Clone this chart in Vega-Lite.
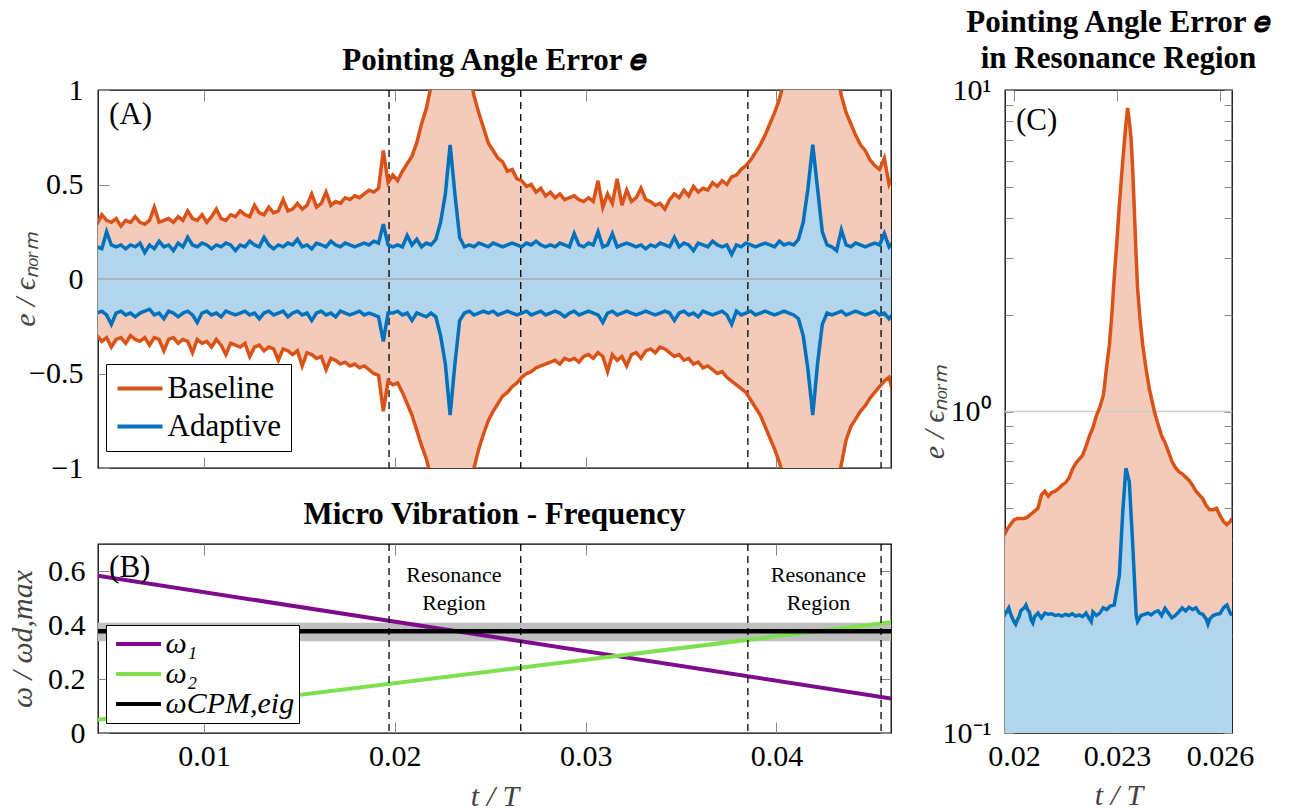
{
  "$schema": "https://vega.github.io/schema/vega-lite/v6.json",
  "background": "white",
  "padding": {"left": 6, "top": 5, "right": 5, "bottom": 5},
  "datasets": {
    "a": [
      {"t":0.0044,"bu":0.29,"bl":-0.30,"au":0.17,"al":-0.18},
      {"t":0.00465,"bu":0.34,"bl":-0.33,"au":0.16,"al":-0.17},
      {"t":0.0049,"bu":0.31,"bl":-0.31,"au":0.25,"al":-0.19},
      {"t":0.00515,"bu":0.30,"bl":-0.36,"au":0.18,"al":-0.24},
      {"t":0.0054,"bu":0.32,"bl":-0.32,"au":0.17,"al":-0.18},
      {"t":0.00565,"bu":0.28,"bl":-0.31,"au":0.18,"al":-0.17},
      {"t":0.0059,"bu":0.31,"bl":-0.34,"au":0.16,"al":-0.19},
      {"t":0.00615,"bu":0.30,"bl":-0.30,"au":0.18,"al":-0.18},
      {"t":0.0064,"bu":0.33,"bl":-0.32,"au":0.17,"al":-0.20},
      {"t":0.00665,"bu":0.30,"bl":-0.33,"au":0.19,"al":-0.18},
      {"t":0.0069,"bu":0.29,"bl":-0.31,"au":0.14,"al":-0.17},
      {"t":0.00715,"bu":0.31,"bl":-0.35,"au":0.18,"al":-0.16},
      {"t":0.0074,"bu":0.38,"bl":-0.31,"au":0.16,"al":-0.19},
      {"t":0.00765,"bu":0.30,"bl":-0.32,"au":0.20,"al":-0.18},
      {"t":0.0079,"bu":0.31,"bl":-0.38,"au":0.17,"al":-0.21},
      {"t":0.00815,"bu":0.32,"bl":-0.32,"au":0.18,"al":-0.17},
      {"t":0.0084,"bu":0.30,"bl":-0.31,"au":0.15,"al":-0.18},
      {"t":0.00865,"bu":0.33,"bl":-0.34,"au":0.19,"al":-0.20},
      {"t":0.0089,"bu":0.31,"bl":-0.32,"au":0.17,"al":-0.18},
      {"t":0.00915,"bu":0.36,"bl":-0.33,"au":0.22,"al":-0.17},
      {"t":0.0094,"bu":0.32,"bl":-0.39,"au":0.18,"al":-0.19},
      {"t":0.00965,"bu":0.31,"bl":-0.32,"au":0.17,"al":-0.23},
      {"t":0.0099,"bu":0.34,"bl":-0.34,"au":0.19,"al":-0.18},
      {"t":0.01015,"bu":0.30,"bl":-0.33,"au":0.18,"al":-0.17},
      {"t":0.0104,"bu":0.33,"bl":-0.36,"au":0.16,"al":-0.19},
      {"t":0.01065,"bu":0.37,"bl":-0.32,"au":0.18,"al":-0.18},
      {"t":0.0109,"bu":0.32,"bl":-0.35,"au":0.17,"al":-0.20},
      {"t":0.01115,"bu":0.31,"bl":-0.40,"au":0.19,"al":-0.17},
      {"t":0.0114,"bu":0.34,"bl":-0.34,"au":0.18,"al":-0.18},
      {"t":0.01165,"bu":0.33,"bl":-0.35,"au":0.15,"al":-0.19},
      {"t":0.0119,"bu":0.36,"bl":-0.36,"au":0.18,"al":-0.18},
      {"t":0.01215,"bu":0.34,"bl":-0.34,"au":0.17,"al":-0.17},
      {"t":0.0124,"bu":0.33,"bl":-0.41,"au":0.20,"al":-0.19},
      {"t":0.01265,"bu":0.39,"bl":-0.36,"au":0.18,"al":-0.18},
      {"t":0.0129,"bu":0.35,"bl":-0.35,"au":0.17,"al":-0.21},
      {"t":0.01315,"bu":0.34,"bl":-0.38,"au":0.22,"al":-0.18},
      {"t":0.0134,"bu":0.38,"bl":-0.36,"au":0.18,"al":-0.17},
      {"t":0.01365,"bu":0.35,"bl":-0.37,"au":0.16,"al":-0.19},
      {"t":0.0139,"bu":0.36,"bl":-0.43,"au":0.18,"al":-0.18},
      {"t":0.01415,"bu":0.42,"bl":-0.37,"au":0.17,"al":-0.17},
      {"t":0.0144,"bu":0.36,"bl":-0.38,"au":0.19,"al":-0.20},
      {"t":0.01465,"bu":0.37,"bl":-0.40,"au":0.18,"al":-0.18},
      {"t":0.0149,"bu":0.40,"bl":-0.38,"au":0.21,"al":-0.17},
      {"t":0.01515,"bu":0.37,"bl":-0.46,"au":0.17,"al":-0.19},
      {"t":0.0154,"bu":0.39,"bl":-0.39,"au":0.18,"al":-0.18},
      {"t":0.01565,"bu":0.45,"bl":-0.40,"au":0.16,"al":-0.22},
      {"t":0.0159,"bu":0.38,"bl":-0.42,"au":0.19,"al":-0.18},
      {"t":0.01615,"bu":0.40,"bl":-0.41,"au":0.18,"al":-0.17},
      {"t":0.0164,"bu":0.46,"bl":-0.48,"au":0.17,"al":-0.19},
      {"t":0.01665,"bu":0.39,"bl":-0.42,"au":0.20,"al":-0.18},
      {"t":0.0169,"bu":0.41,"bl":-0.43,"au":0.18,"al":-0.20},
      {"t":0.01715,"bu":0.40,"bl":-0.45,"au":0.17,"al":-0.17},
      {"t":0.0174,"bu":0.43,"bl":-0.44,"au":0.19,"al":-0.18},
      {"t":0.01765,"bu":0.42,"bl":-0.46,"au":0.18,"al":-0.19},
      {"t":0.0179,"bu":0.44,"bl":-0.45,"au":0.17,"al":-0.18},
      {"t":0.01815,"bu":0.43,"bl":-0.47,"au":0.18,"al":-0.17},
      {"t":0.0184,"bu":0.45,"bl":-0.46,"au":0.19,"al":-0.19},
      {"t":0.01865,"bu":0.47,"bl":-0.48,"au":0.18,"al":-0.18},
      {"t":0.0189,"bu":0.46,"bl":-0.50,"au":0.20,"al":-0.19},
      {"t":0.01915,"bu":0.48,"bl":-0.51,"au":0.19,"al":-0.20},
      {"t":0.0194,"bu":0.68,"bl":-0.70,"au":0.29,"al":-0.33},
      {"t":0.01965,"bu":0.51,"bl":-0.54,"au":0.18,"al":-0.18},
      {"t":0.0199,"bu":0.55,"bl":-0.56,"au":0.17,"al":-0.18},
      {"t":0.02015,"bu":0.52,"bl":-0.55,"au":0.18,"al":-0.17},
      {"t":0.0204,"bu":0.57,"bl":-0.60,"au":0.17,"al":-0.19},
      {"t":0.02065,"bu":0.61,"bl":-0.66,"au":0.23,"al":-0.18},
      {"t":0.0209,"bu":0.65,"bl":-0.72,"au":0.18,"al":-0.22},
      {"t":0.02115,"bu":0.72,"bl":-0.80,"au":0.21,"al":-0.18},
      {"t":0.0214,"bu":0.82,"bl":-0.88,"au":0.17,"al":-0.19},
      {"t":0.02165,"bu":0.90,"bl":-0.95,"au":0.19,"al":-0.20},
      {"t":0.0219,"bu":1.02,"bl":-1.05,"au":0.18,"al":-0.18},
      {"t":0.02215,"bu":1.3,"bl":-1.3,"au":0.21,"al":-0.20},
      {"t":0.0224,"bu":1.8,"bl":-1.8,"au":0.30,"al":-0.30},
      {"t":0.02265,"bu":2.8,"bl":-2.8,"au":0.45,"al":-0.45},
      {"t":0.0229,"bu":5.0,"bl":-5.0,"au":0.71,"al":-0.72},
      {"t":0.02315,"bu":3.0,"bl":-3.0,"au":0.45,"al":-0.45},
      {"t":0.0234,"bu":1.9,"bl":-1.9,"au":0.22,"al":-0.22},
      {"t":0.02365,"bu":1.35,"bl":-1.35,"au":0.17,"al":-0.18},
      {"t":0.0239,"bu":1.1,"bl":-1.1,"au":0.18,"al":-0.17},
      {"t":0.02415,"bu":0.97,"bl":-1.0,"au":0.17,"al":-0.19},
      {"t":0.0244,"bu":0.88,"bl":-0.90,"au":0.19,"al":-0.18},
      {"t":0.02465,"bu":0.80,"bl":-0.82,"au":0.18,"al":-0.17},
      {"t":0.0249,"bu":0.72,"bl":-0.75,"au":0.17,"al":-0.18},
      {"t":0.02515,"bu":0.68,"bl":-0.70,"au":0.19,"al":-0.17},
      {"t":0.0254,"bu":0.64,"bl":-0.66,"au":0.18,"al":-0.19},
      {"t":0.02565,"bu":0.62,"bl":-0.62,"au":0.17,"al":-0.18},
      {"t":0.0259,"bu":0.57,"bl":-0.60,"au":0.18,"al":-0.17},
      {"t":0.02615,"bu":0.58,"bl":-0.57,"au":0.19,"al":-0.18},
      {"t":0.0264,"bu":0.53,"bl":-0.55,"au":0.18,"al":-0.19},
      {"t":0.02665,"bu":0.52,"bl":-0.52,"au":0.17,"al":-0.18},
      {"t":0.0269,"bu":0.49,"bl":-0.50,"au":0.19,"al":-0.17},
      {"t":0.02715,"bu":0.50,"bl":-0.49,"au":0.18,"al":-0.19},
      {"t":0.0274,"bu":0.46,"bl":-0.47,"au":0.20,"al":-0.18},
      {"t":0.02765,"bu":0.48,"bl":-0.46,"au":0.18,"al":-0.17},
      {"t":0.0279,"bu":0.44,"bl":-0.45,"au":0.17,"al":-0.19},
      {"t":0.02815,"bu":0.46,"bl":-0.44,"au":0.18,"al":-0.18},
      {"t":0.0284,"bu":0.43,"bl":-0.43,"au":0.17,"al":-0.17},
      {"t":0.02865,"bu":0.45,"bl":-0.45,"au":0.19,"al":-0.18},
      {"t":0.0289,"bu":0.42,"bl":-0.42,"au":0.18,"al":-0.20},
      {"t":0.02915,"bu":0.43,"bl":-0.43,"au":0.17,"al":-0.18},
      {"t":0.0294,"bu":0.44,"bl":-0.42,"au":0.24,"al":-0.17},
      {"t":0.02965,"bu":0.42,"bl":-0.44,"au":0.18,"al":-0.19},
      {"t":0.0299,"bu":0.41,"bl":-0.41,"au":0.17,"al":-0.18},
      {"t":0.03015,"bu":0.43,"bl":-0.40,"au":0.19,"al":-0.17},
      {"t":0.0304,"bu":0.41,"bl":-0.42,"au":0.18,"al":-0.18},
      {"t":0.03065,"bu":0.52,"bl":-0.39,"au":0.25,"al":-0.19},
      {"t":0.0309,"bu":0.38,"bl":-0.41,"au":0.17,"al":-0.23},
      {"t":0.03115,"bu":0.45,"bl":-0.49,"au":0.18,"al":-0.18},
      {"t":0.0314,"bu":0.40,"bl":-0.40,"au":0.24,"al":-0.17},
      {"t":0.03165,"bu":0.53,"bl":-0.43,"au":0.17,"al":-0.19},
      {"t":0.0319,"bu":0.39,"bl":-0.41,"au":0.18,"al":-0.18},
      {"t":0.03215,"bu":0.47,"bl":-0.46,"au":0.19,"al":-0.17},
      {"t":0.0324,"bu":0.41,"bl":-0.40,"au":0.18,"al":-0.18},
      {"t":0.03265,"bu":0.43,"bl":-0.39,"au":0.17,"al":-0.19},
      {"t":0.0329,"bu":0.48,"bl":-0.42,"au":0.18,"al":-0.18},
      {"t":0.03315,"bu":0.42,"bl":-0.38,"au":0.16,"al":-0.17},
      {"t":0.0334,"bu":0.41,"bl":-0.37,"au":0.18,"al":-0.18},
      {"t":0.03365,"bu":0.39,"bl":-0.39,"au":0.17,"al":-0.19},
      {"t":0.0339,"bu":0.40,"bl":-0.36,"au":0.19,"al":-0.18},
      {"t":0.03415,"bu":0.37,"bl":-0.37,"au":0.18,"al":-0.17},
      {"t":0.0344,"bu":0.42,"bl":-0.39,"au":0.17,"al":-0.18},
      {"t":0.03465,"bu":0.45,"bl":-0.41,"au":0.22,"al":-0.22},
      {"t":0.0349,"bu":0.43,"bl":-0.40,"au":0.17,"al":-0.18},
      {"t":0.03515,"bu":0.47,"bl":-0.43,"au":0.19,"al":-0.17},
      {"t":0.0354,"bu":0.44,"bl":-0.42,"au":0.18,"al":-0.19},
      {"t":0.03565,"bu":0.49,"bl":-0.45,"au":0.15,"al":-0.18},
      {"t":0.0359,"bu":0.46,"bl":-0.44,"au":0.19,"al":-0.20},
      {"t":0.03615,"bu":0.48,"bl":-0.47,"au":0.18,"al":-0.17},
      {"t":0.0364,"bu":0.47,"bl":-0.46,"au":0.17,"al":-0.18},
      {"t":0.03665,"bu":0.51,"bl":-0.48,"au":0.20,"al":-0.19},
      {"t":0.0369,"bu":0.49,"bl":-0.50,"au":0.18,"al":-0.18},
      {"t":0.03715,"bu":0.52,"bl":-0.49,"au":0.17,"al":-0.17},
      {"t":0.0374,"bu":0.50,"bl":-0.52,"au":0.18,"al":-0.19},
      {"t":0.03765,"bu":0.54,"bl":-0.54,"au":0.13,"al":-0.24},
      {"t":0.0379,"bu":0.55,"bl":-0.56,"au":0.18,"al":-0.17},
      {"t":0.03815,"bu":0.58,"bl":-0.58,"au":0.17,"al":-0.19},
      {"t":0.0384,"bu":0.60,"bl":-0.60,"au":0.19,"al":-0.18},
      {"t":0.03865,"bu":0.63,"bl":-0.64,"au":0.18,"al":-0.17},
      {"t":0.0389,"bu":0.67,"bl":-0.68,"au":0.17,"al":-0.19},
      {"t":0.03915,"bu":0.71,"bl":-0.72,"au":0.18,"al":-0.18},
      {"t":0.0394,"bu":0.76,"bl":-0.78,"au":0.19,"al":-0.17},
      {"t":0.03965,"bu":0.82,"bl":-0.84,"au":0.18,"al":-0.18},
      {"t":0.0399,"bu":0.88,"bl":-0.90,"au":0.17,"al":-0.19},
      {"t":0.04015,"bu":0.95,"bl":-0.97,"au":0.20,"al":-0.18},
      {"t":0.0404,"bu":1.05,"bl":-1.06,"au":0.18,"al":-0.17},
      {"t":0.04065,"bu":1.3,"bl":-1.3,"au":0.19,"al":-0.18},
      {"t":0.0409,"bu":1.7,"bl":-1.7,"au":0.18,"al":-0.19},
      {"t":0.04115,"bu":2.4,"bl":-2.4,"au":0.21,"al":-0.21},
      {"t":0.0414,"bu":3.5,"bl":-3.5,"au":0.30,"al":-0.30},
      {"t":0.04165,"bu":5.0,"bl":-5.0,"au":0.48,"al":-0.48},
      {"t":0.0419,"bu":6.0,"bl":-6.0,"au":0.71,"al":-0.72},
      {"t":0.04215,"bu":5.0,"bl":-5.0,"au":0.48,"al":-0.45},
      {"t":0.0424,"bu":3.5,"bl":-3.5,"au":0.25,"al":-0.24},
      {"t":0.04265,"bu":2.3,"bl":-2.3,"au":0.18,"al":-0.18},
      {"t":0.0429,"bu":1.5,"bl":-1.5,"au":0.17,"al":-0.19},
      {"t":0.04315,"bu":1.1,"bl":-1.1,"au":0.15,"al":-0.18},
      {"t":0.0434,"bu":0.97,"bl":-0.98,"au":0.26,"al":-0.17},
      {"t":0.04365,"bu":0.88,"bl":-0.85,"au":0.18,"al":-0.19},
      {"t":0.0439,"bu":0.82,"bl":-0.78,"au":0.17,"al":-0.18},
      {"t":0.04415,"bu":0.76,"bl":-0.74,"au":0.19,"al":-0.17},
      {"t":0.0444,"bu":0.71,"bl":-0.70,"au":0.18,"al":-0.18},
      {"t":0.04465,"bu":0.68,"bl":-0.67,"au":0.17,"al":-0.19},
      {"t":0.0449,"bu":0.63,"bl":-0.63,"au":0.18,"al":-0.18},
      {"t":0.04515,"bu":0.60,"bl":-0.60,"au":0.19,"al":-0.17},
      {"t":0.0454,"bu":0.58,"bl":-0.57,"au":0.18,"al":-0.19},
      {"t":0.04565,"bu":0.64,"bl":-0.54,"au":0.24,"al":-0.18},
      {"t":0.0459,"bu":0.50,"bl":-0.52,"au":0.17,"al":-0.21},
      {"t":0.04615,"bu":0.55,"bl":-0.62,"au":0.20,"al":-0.18}
    ],
    "cb": [
      {"t":0.0197,"v":0.41},{"t":0.0198,"v":0.43},{"t":0.0199,"v":0.445},{"t":0.02,"v":0.46},
      {"t":0.0201,"v":0.465},{"t":0.0202,"v":0.465},{"t":0.0203,"v":0.465},{"t":0.0204,"v":0.47},
      {"t":0.0205,"v":0.48},{"t":0.0206,"v":0.49},{"t":0.0207,"v":0.50},{"t":0.0208,"v":0.55},
      {"t":0.0209,"v":0.565},{"t":0.021,"v":0.545},{"t":0.0211,"v":0.56},{"t":0.0212,"v":0.565},
      {"t":0.0213,"v":0.575},{"t":0.0214,"v":0.59},{"t":0.0215,"v":0.60},{"t":0.0216,"v":0.62},
      {"t":0.0217,"v":0.66},{"t":0.0218,"v":0.69},{"t":0.0219,"v":0.71},{"t":0.022,"v":0.73},
      {"t":0.0221,"v":0.78},{"t":0.0222,"v":0.84},{"t":0.0223,"v":0.89},{"t":0.0224,"v":0.97},
      {"t":0.0225,"v":1.03},{"t":0.0226,"v":1.12},{"t":0.02263,"v":1.18},{"t":0.0227,"v":1.38},
      {"t":0.02278,"v":1.61},{"t":0.02285,"v":2.0},{"t":0.02292,"v":2.6},{"t":0.023,"v":3.4},
      {"t":0.02307,"v":4.4},{"t":0.02314,"v":5.5},{"t":0.02321,"v":6.8},{"t":0.02326,"v":7.8},
      {"t":0.02331,"v":8.8},{"t":0.02336,"v":8.0},{"t":0.02341,"v":7.1},{"t":0.02346,"v":5.6},
      {"t":0.0235,"v":4.4},{"t":0.02355,"v":3.2},{"t":0.0236,"v":2.42},{"t":0.02367,"v":1.95},
      {"t":0.02375,"v":1.61},{"t":0.02385,"v":1.35},{"t":0.02394,"v":1.18},{"t":0.02402,"v":1.08},
      {"t":0.02409,"v":1.0},{"t":0.0242,"v":0.91},{"t":0.0243,"v":0.84},{"t":0.0244,"v":0.80},
      {"t":0.0245,"v":0.75},{"t":0.0246,"v":0.70},{"t":0.0247,"v":0.67},{"t":0.0248,"v":0.65},
      {"t":0.0249,"v":0.64},{"t":0.025,"v":0.625},{"t":0.0251,"v":0.61},{"t":0.0252,"v":0.59},
      {"t":0.0253,"v":0.565},{"t":0.0254,"v":0.55},{"t":0.0255,"v":0.535},{"t":0.0256,"v":0.51},
      {"t":0.0257,"v":0.495},{"t":0.0258,"v":0.495},{"t":0.0259,"v":0.50},{"t":0.026,"v":0.475},
      {"t":0.0261,"v":0.455},{"t":0.0262,"v":0.445},{"t":0.0263,"v":0.455},{"t":0.02635,"v":0.465}
    ],
    "ca": [
      {"t":0.0197,"v":0.23},{"t":0.01985,"v":0.245},{"t":0.0199,"v":0.235},{"t":0.02,"v":0.222},
      {"t":0.02005,"v":0.218},{"t":0.0201,"v":0.225},{"t":0.02015,"v":0.23},{"t":0.0202,"v":0.24},
      {"t":0.0203,"v":0.245},{"t":0.02035,"v":0.25},{"t":0.0204,"v":0.242},{"t":0.02045,"v":0.238},
      {"t":0.0205,"v":0.225},{"t":0.02055,"v":0.22},{"t":0.0206,"v":0.23},{"t":0.0207,"v":0.236},
      {"t":0.0208,"v":0.228},{"t":0.0209,"v":0.236},{"t":0.021,"v":0.234},{"t":0.0211,"v":0.235},
      {"t":0.0212,"v":0.232},{"t":0.0213,"v":0.233},{"t":0.0214,"v":0.231},{"t":0.0215,"v":0.234},
      {"t":0.0216,"v":0.232},{"t":0.0217,"v":0.235},{"t":0.0218,"v":0.231},{"t":0.0219,"v":0.233},
      {"t":0.022,"v":0.23},{"t":0.0221,"v":0.236},{"t":0.0222,"v":0.226},{"t":0.02225,"v":0.222},
      {"t":0.0223,"v":0.238},{"t":0.0224,"v":0.232},{"t":0.0225,"v":0.236},{"t":0.0226,"v":0.245},
      {"t":0.0227,"v":0.242},{"t":0.0228,"v":0.248},{"t":0.02292,"v":0.25},{"t":0.02307,"v":0.31},
      {"t":0.02317,"v":0.49},{"t":0.02326,"v":0.666},{"t":0.02336,"v":0.605},{"t":0.02346,"v":0.384},
      {"t":0.02356,"v":0.232},{"t":0.0236,"v":0.222},{"t":0.0237,"v":0.232},{"t":0.0238,"v":0.234},
      {"t":0.0239,"v":0.236},{"t":0.024,"v":0.233},{"t":0.0241,"v":0.238},{"t":0.0242,"v":0.24},
      {"t":0.0243,"v":0.232},{"t":0.0244,"v":0.244},{"t":0.0245,"v":0.236},{"t":0.0246,"v":0.228},
      {"t":0.0247,"v":0.232},{"t":0.0248,"v":0.238},{"t":0.0249,"v":0.245},{"t":0.025,"v":0.24},
      {"t":0.0251,"v":0.246},{"t":0.0252,"v":0.242},{"t":0.0253,"v":0.245},{"t":0.0254,"v":0.236},
      {"t":0.0255,"v":0.234},{"t":0.0256,"v":0.226},{"t":0.02565,"v":0.218},{"t":0.0257,"v":0.226},
      {"t":0.0258,"v":0.232},{"t":0.0259,"v":0.234},{"t":0.026,"v":0.235},{"t":0.0261,"v":0.245},
      {"t":0.0262,"v":0.25},{"t":0.0263,"v":0.236},{"t":0.02635,"v":0.232}
    ],
    "dash": [{"t":0.0197},{"t":0.0266},{"t":0.0385},{"t":0.04548}],
    "omega": [
      {"t":0.0044,"w":0.583,"s":"ω₁"},{"t":0.0461,"w":0.127,"s":"ω₁"},
      {"t":0.0044,"w":0.049,"s":"ω₂"},{"t":0.0461,"w":0.411,"s":"ω₂"}
    ],
    "band": [{"t":0.0044,"lo":0.34,"hi":0.408},{"t":0.0461,"lo":0.34,"hi":0.408}]
  },
  "config": {
    "font": "Liberation Serif",
    "view": {"stroke": "black", "strokeWidth": 1.3},
    "title": {"font": "Liberation Serif, DejaVu Serif", "fontSize": 31, "fontWeight": "bold", "color": "black", "baseline": "alphabetic", "anchor": "middle"},
    "axis": {
      "labelFont": "Liberation Serif", "labelFontSize": 30, "labelColor": "black",
      "titleFont": "Liberation Serif", "titleFontSize": 30, "titleFontStyle": "italic", "titleFontWeight": "normal", "titleColor": "#444",
      "domain": false, "grid": false, "tickColor": "#888", "tickWidth": 1, "tickSize": -11,
      "labelFlush": false, "labelOverlap": false, "labelBound": false, "minExtent": 0
    },
    "legend": {
      "labelFont": "Liberation Serif", "labelColor": "black", "strokeColor": "black", "fillColor": "white",
      "cornerRadius": 0, "symbolStrokeWidth": 4, "symbolType": "M-2.5,0H2.5", "symbolSize": 324
    },
    "text": {"font": "Liberation Serif", "color": "black"}
  },
  "spacing": 24,
  "resolve": {"scale": {"color": "independent"}},
  "hconcat": [
    {
      "spacing": 76,
      "bounds": "flush",
      "resolve": {"scale": {"color": "independent"}},
      "vconcat": [
        {
          "width": 793,
          "height": 378,
          "title": {"text": [" ", "Pointing Angle Error 𝑒"], "offset": -2, "lineHeight": 39},
          "resolve": {"axis": {"x": "independent", "y": "independent"}},
          "layer": [
            {
              "data": {"name": "a"},
              "mark": {"type": "area", "color": "#F4CBBA", "clip": true},
              "encoding": {
                "x": {"field": "t", "type": "quantitative", "scale": {"domain": [0.00445, 0.046], "nice": false, "zero": false},
                      "axis": {"orient": "bottom", "values": [0.01, 0.02, 0.03, 0.04], "labels": false, "title": null}},
                "y": {"field": "bl", "type": "quantitative", "scale": {"domain": [-1, 1], "nice": false, "zero": false},
                      "axis": {"orient": "left", "values": [-1, -0.5, 0, 0.5, 1], "format": "~g", "title": "e / ϵₙₒᵣₘ", "titleX": -64, "titleBaseline": "alphabetic", "labelPadding": 26}},
                "y2": {"field": "bu"}
              }
            },
            {
              "data": {"name": "a"},
              "mark": {"type": "area", "color": "#B3D5EC", "clip": true},
              "encoding": {
                "x": {"field": "t", "type": "quantitative", "axis": null},
                "y": {"field": "al", "type": "quantitative", "axis": null},
                "y2": {"field": "au"}
              }
            },
            {
              "data": {"values": [{}]},
              "mark": {"type": "rule", "color": "#999", "strokeWidth": 1},
              "encoding": {
                "y": {"datum": 0, "type": "quantitative", "axis": {"orient": "right", "values": [-1, -0.5, 0, 0.5, 1], "labels": false, "title": null}}
              }
            },
            {
              "data": {"name": "dash"},
              "mark": {"type": "rule", "color": "black", "strokeDash": [7, 5], "strokeWidth": 1.3},
              "encoding": {
                "x": {"field": "t", "type": "quantitative", "axis": {"orient": "top", "values": [0.01, 0.02, 0.03, 0.04], "labels": false, "title": null}}
              }
            },
            {
              "data": {"name": "a"},
              "mark": {"type": "line", "strokeWidth": 3.5, "clip": true},
              "encoding": {
                "x": {"field": "t", "type": "quantitative", "axis": null},
                "y": {"field": "bu", "type": "quantitative", "axis": null},
                "color": {"datum": "Baseline", "scale": {"domain": ["Baseline", "Adaptive"], "range": ["#D95319", "#0072BD"]},
                          "legend": {"orient": "none", "legendX": 8, "legendY": 274, "title": null, "labelFontSize": 31, "padding": 9, "rowPadding": 6, "symbolOffset": 9.5, "labelOffset": 12}}
              }
            },
            {
              "data": {"name": "a"},
              "mark": {"type": "line", "strokeWidth": 3.5, "clip": true},
              "encoding": {
                "x": {"field": "t", "type": "quantitative", "axis": null},
                "y": {"field": "bl", "type": "quantitative", "axis": null},
                "color": {"datum": "Baseline"}
              }
            },
            {
              "data": {"name": "a"},
              "mark": {"type": "line", "strokeWidth": 3.5, "clip": true},
              "encoding": {
                "x": {"field": "t", "type": "quantitative", "axis": null},
                "y": {"field": "au", "type": "quantitative", "axis": null},
                "color": {"datum": "Adaptive"}
              }
            },
            {
              "data": {"name": "a"},
              "mark": {"type": "line", "strokeWidth": 3.5, "clip": true},
              "encoding": {
                "x": {"field": "t", "type": "quantitative", "axis": null},
                "y": {"field": "al", "type": "quantitative", "axis": null},
                "color": {"datum": "Adaptive"}
              }
            },
            {
              "data": {"values": [{"t": 0.00503, "v": 0.87, "label": "(A)"}]},
              "mark": {"type": "text", "fontSize": 31, "align": "left", "baseline": "middle"},
              "encoding": {
                "x": {"field": "t", "type": "quantitative", "axis": null},
                "y": {"field": "v", "type": "quantitative", "axis": null},
                "text": {"field": "label"}
              }
            }
          ]
        },
        {
          "width": 793,
          "height": 189,
          "title": {"text": "Micro Vibration - Frequency", "offset": 12},
          "resolve": {"axis": {"x": "independent", "y": "independent"}},
          "layer": [
            {
              "data": {"name": "band"},
              "mark": {"type": "area", "color": "#BFBFBF", "clip": true},
              "encoding": {
                "x": {"field": "t", "type": "quantitative", "scale": {"domain": [0.00445, 0.046], "nice": false, "zero": false}, "axis": null},
                "y": {"field": "lo", "type": "quantitative", "scale": {"domain": [0, 0.7], "nice": false}, "axis": null},
                "y2": {"field": "hi"}
              }
            },
            {
              "data": {"name": "omega"},
              "mark": {"type": "line", "strokeWidth": 4, "clip": true},
              "encoding": {
                "x": {"field": "t", "type": "quantitative", "scale": {"domain": [0.00445, 0.046], "nice": false, "zero": false},
                      "axis": {"orient": "bottom", "values": [0.01, 0.02, 0.03, 0.04], "format": ".2f", "title": "t / T", "titleY": 72, "titleBaseline": "alphabetic", "labelBaseline": "alphabetic", "labelPadding": 43}},
                "y": {"field": "w", "type": "quantitative", "scale": {"domain": [0, 0.7], "nice": false},
                      "axis": {"orient": "left", "values": [0, 0.2, 0.4, 0.6], "format": "~g", "title": "ω / ωd,max", "titleX": -67, "titleBaseline": "alphabetic", "labelPadding": 24}},
                "color": {"field": "s", "type": "nominal", "scale": {"domain": ["ω₁", "ω₂", "ωCPM,eig"], "range": ["#7E0A8C", "#7EE04F", "black"]},
                          "legend": {"orient": "none", "legendX": 8, "legendY": 81, "title": null, "labelFontSize": 30, "labelFontStyle": "italic", "padding": 4, "rowPadding": 0, "symbolOffset": 13.5, "labelOffset": 12}}
              }
            },
            {
              "data": {"values": [{}]},
              "mark": {"type": "rule", "strokeWidth": 4.5},
              "encoding": {
                "y": {"datum": 0.377, "type": "quantitative", "axis": {"orient": "right", "values": [0, 0.2, 0.4, 0.6], "labels": false, "title": null}},
                "color": {"datum": "ωCPM,eig"}
              }
            },
            {
              "data": {"name": "dash"},
              "mark": {"type": "rule", "color": "black", "strokeDash": [7, 5], "strokeWidth": 1.3},
              "encoding": {
                "x": {"field": "t", "type": "quantitative", "axis": {"orient": "top", "values": [0.01, 0.02, 0.03, 0.04], "labels": false, "title": null}}
              }
            },
            {
              "data": {"values": [{"t": 0.0231, "w": 0.586, "label": "Resonance\nRegion"}, {"t": 0.0422, "w": 0.586, "label": "Resonance\nRegion"}]},
              "mark": {"type": "text", "fontSize": 22, "align": "center", "baseline": "middle", "lineBreak": "\n", "lineHeight": 28},
              "encoding": {
                "x": {"field": "t", "type": "quantitative", "axis": null},
                "y": {"field": "w", "type": "quantitative", "axis": null},
                "text": {"field": "label"}
              }
            },
            {
              "data": {"values": [{"t": 0.00503, "w": 0.612, "label": "(B)"}]},
              "mark": {"type": "text", "fontSize": 31, "align": "left", "baseline": "middle"},
              "encoding": {
                "x": {"field": "t", "type": "quantitative", "axis": null},
                "y": {"field": "w", "type": "quantitative", "axis": null},
                "text": {"field": "label"}
              }
            }
          ]
        }
      ]
    },
    {
      "width": 227,
      "height": 643,
      "title": {"text": ["Pointing Angle Error 𝑒", "in Resonance Region"], "offset": 0, "lineHeight": 36},
      "resolve": {"axis": {"x": "independent", "y": "independent"}},
      "layer": [
        {
          "data": {"name": "cb"},
          "mark": {"type": "area", "color": "#F4CBBA", "clip": true},
          "encoding": {
            "x": {"field": "t", "type": "quantitative", "scale": {"domain": [0.01974, 0.02635], "nice": false, "zero": false},
                  "axis": {"orient": "bottom", "values": [0.02, 0.023, 0.026], "format": "~g", "title": "t / T", "titleY": 71, "titleBaseline": "alphabetic", "labelBaseline": "alphabetic", "labelPadding": 43}},
            "y": {"field": "v", "type": "quantitative", "scale": {"type": "log", "domain": [0.1, 10], "nice": false},
                  "axis": {"orient": "left", "values": [0.1, 0.2, 0.3, 0.4, 0.5, 0.6, 0.7, 0.8, 0.9, 1, 2, 3, 4, 5, 6, 7, 8, 9, 10],
                           "labelExpr": "datum.value == 10 ? '10¹' : datum.value == 1 ? '10⁰' : datum.value == 0.1 ? '10⁻¹' : ''",
                           "title": "e / ϵₙₒᵣₘ", "titleX": -62, "titleBaseline": "alphabetic", "tickSize": -8, "labelPadding": 22}},
            "y2": {"datum": 0.1}
          }
        },
        {
          "data": {"name": "ca"},
          "mark": {"type": "area", "color": "#B3D5EC", "clip": true},
          "encoding": {
            "x": {"field": "t", "type": "quantitative", "axis": null},
            "y": {"field": "v", "type": "quantitative", "axis": null},
            "y2": {"datum": 0.1}
          }
        },
        {
          "data": {"values": [{}]},
          "mark": {"type": "rule", "color": "#CCCCCC", "strokeWidth": 1.5},
          "encoding": {
            "y": {"datum": 1, "type": "quantitative", "axis": {"orient": "right", "values": [0.1, 0.2, 0.3, 0.4, 0.5, 0.6, 0.7, 0.8, 0.9, 1, 2, 3, 4, 5, 6, 7, 8, 9, 10], "labels": false, "title": null, "tickSize": -8}}
          }
        },
        {
          "data": {"name": "cb"},
          "mark": {"type": "line", "color": "#D95319", "strokeWidth": 3.5, "clip": true},
          "encoding": {
            "x": {"field": "t", "type": "quantitative", "axis": null},
            "y": {"field": "v", "type": "quantitative", "axis": null}
          }
        },
        {
          "data": {"name": "ca"},
          "mark": {"type": "line", "color": "#0072BD", "strokeWidth": 3.5, "clip": true},
          "encoding": {
            "x": {"field": "t", "type": "quantitative", "axis": null},
            "y": {"field": "v", "type": "quantitative", "axis": null}
          }
        },
        {
          "data": {"values": [{"t": 0.02006, "v": 8.0, "label": "(C)"}]},
          "mark": {"type": "text", "fontSize": 31, "align": "left", "baseline": "middle"},
          "encoding": {
            "x": {"field": "t", "type": "quantitative", "axis": {"orient": "top", "values": [0.02, 0.023, 0.026], "labels": false, "title": null}},
            "y": {"field": "v", "type": "quantitative", "axis": null},
            "text": {"field": "label"}
          }
        }
      ]
    }
  ]
}
